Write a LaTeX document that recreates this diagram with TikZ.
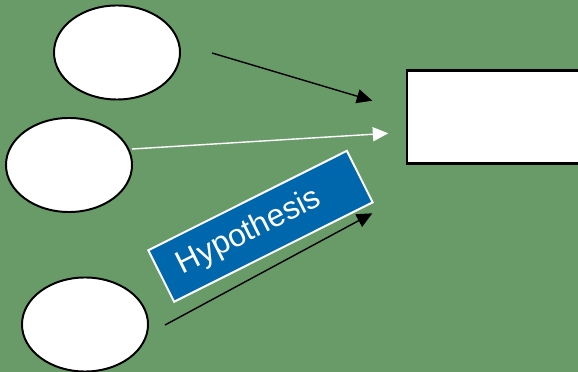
\documentclass[tikz,border=0pt]{standalone}
\usepackage{fontspec}
\setmainfont{Liberation Sans}
\usepackage{tikz}
\usetikzlibrary{shapes,arrows.meta,positioning}

\definecolor{field}{RGB}{104,155,103}
\definecolor{hypblue}{RGB}{0,103,172}

\tikzset{
    factor/.style={ellipse, draw=black, line width=1.4pt, fill=white,
        minimum width=3.15cm, minimum height=2.35cm, inner sep=0pt},
    outcome/.style={rectangle, draw=black, line width=2pt, fill=white,
        minimum width=7.5cm, minimum height=2.325cm, anchor=west},
    hypbox/.style={rectangle, draw=white, line width=1.4pt, fill=hypblue,
        text=white, minimum width=5.55cm, minimum height=1.44cm,
        font=\fontsize{22.5}{26}\selectfont},
    link/.style={line width=1pt, -{Triangle[length=11pt,width=10pt]}}
}

\begin{document}
\begin{tikzpicture}[x=0.025cm, y=-0.025cm]
        \useasboundingbox (0,0) rectangle (578,372);
        \clip (0,0) rectangle (578,372);
        \fill[field] (0,0) rectangle (578,372);

        % three causes on the left
        \node[factor] (f1) at (117,52.5) {};
        \node[factor] (f2) at (69,165) {};
        \node[factor] (f3) at (85,324.5) {};

        % the effect, running off the page
        \node[outcome] (res) at (405.5,117) {};

        % free ends of the arrows
        \coordinate (s1) at (212,53);
        \coordinate (t1) at (372.3,100.7);
        \coordinate (s2) at (132,149);
        \coordinate (t2) at (388.3,133.3);
        \coordinate (s3) at (165,325);
        \coordinate (t3) at (372.3,213.3);

        \draw[link, black] (s1) -- (t1);
        \draw[link, white] (s2) -- (t2);
        \draw[link, black] (s3) -- (t3);

        % label sits a little left of the box centre
        \node[hypbox, rotate=26.6] (hyp) at (260.5,226.3) {Hypothesis\kern0.63cm};
\end{tikzpicture}
\end{document}
